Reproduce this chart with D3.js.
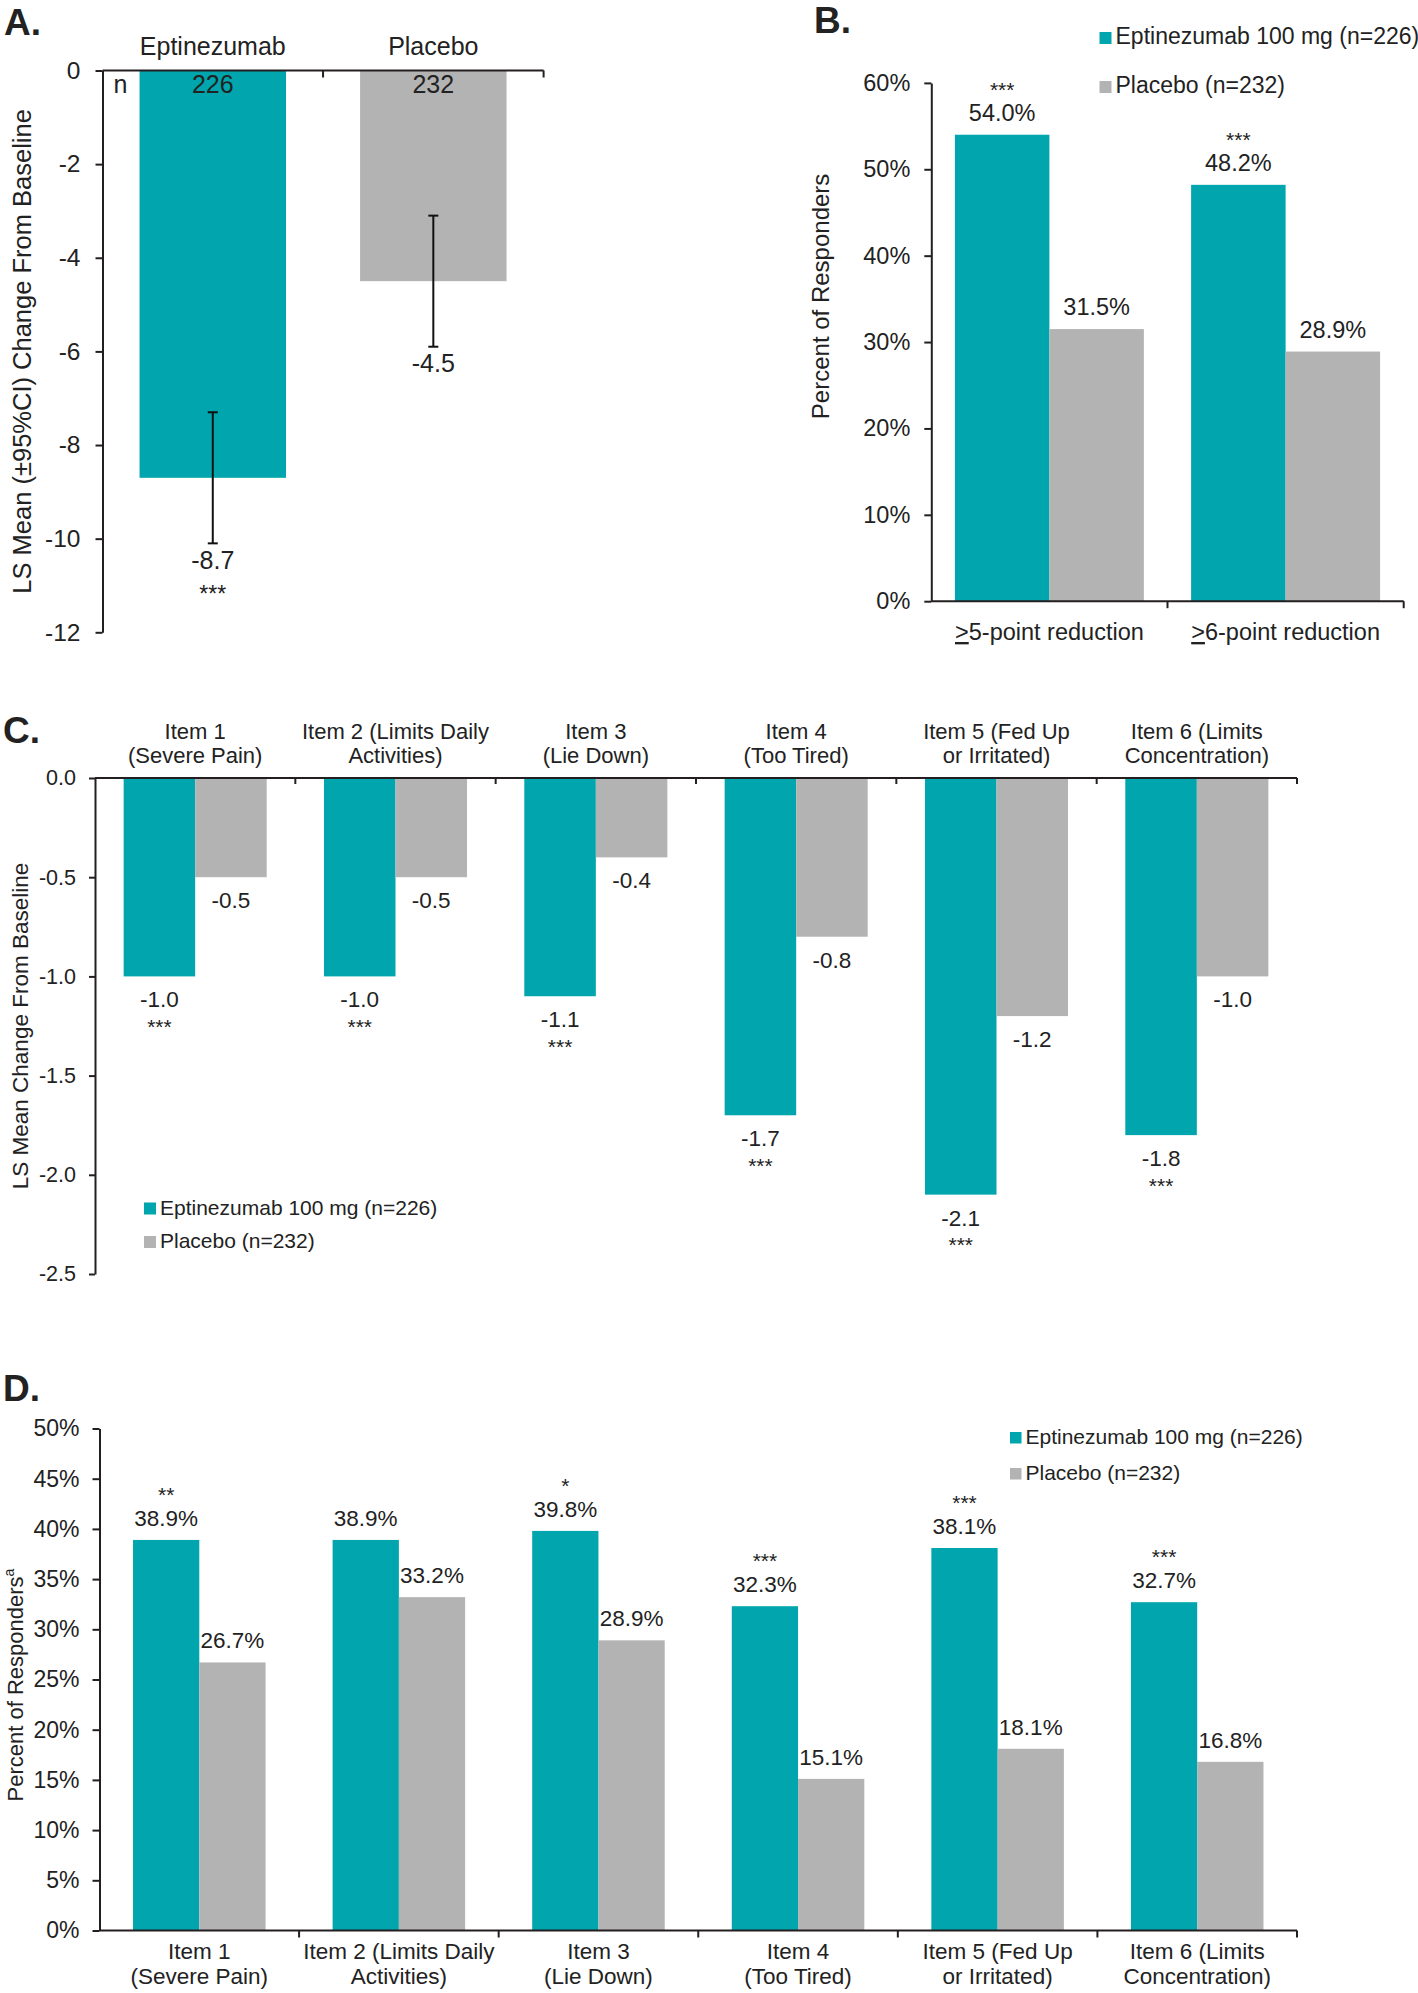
<!DOCTYPE html>
<html><head><meta charset="utf-8">
<script src="https://cdn.jsdelivr.net/npm/d3@7"></script>
<style>
body{margin:0;background:#fff}
text{font-family:"Liberation Sans",Arial,sans-serif;fill:#222}
</style>
</head><body>
<svg id="c" width="1418" height="1993"></svg>
<script>
// ---------------- DATA ----------------
const seriesNames = ["Eptinezumab 100 mg (n=226)", "Placebo (n=232)"];

// Panel A
const groupsA = ["Eptinezumab", "Placebo"];
const nA = [226, 232];
const meanA = [-8.7, -4.5];
const ciLowA = [-10.1, -5.9];
const ciHighA = [-7.3, -3.1];
const sigA = ["***", ""];
const ticksA = [0, -2, -4, -6, -8, -10, -12];

// Panel B
const catsB = ["≥5-point reduction", "≥6-point reduction"];
const eptB = [54.0, 48.2];
const plaB = [31.5, 28.9];
const sigB = ["***", "***"];
const ticksB = [0, 10, 20, 30, 40, 50, 60];

// Panels C & D items
const itemLine1 = ["Item 1", "Item 2 (Limits Daily", "Item 3", "Item 4", "Item 5 (Fed Up", "Item 6 (Limits"];
const itemLine2 = ["(Severe Pain)", "Activities)", "(Lie Down)", "(Too Tired)", "or Irritated)", "Concentration)"];

// Panel C
const eptC = [-1.0, -1.0, -1.1, -1.7, -2.1, -1.8];
const plaC = [-0.5, -0.5, -0.4, -0.8, -1.2, -1.0];
const sigC = ["***", "***", "***", "***", "***", "***"];
const ticksC = [0, -0.5, -1.0, -1.5, -2.0, -2.5];

// Panel D
const eptD = [38.9, 38.9, 39.8, 32.3, 38.1, 32.7];
const plaD = [26.7, 33.2, 28.9, 15.1, 18.1, 16.8];
const sigD = ["**", "", "*", "***", "***", "***"];
const ticksD = [0, 5, 10, 15, 20, 25, 30, 35, 40, 45, 50];

// ---------------- STYLE ----------------
const TEAL = "#00A5AD", GRAY = "#B3B3B3", AXIS = "#231f20";
const colors = [TEAL, GRAY];
const svg = d3.select("#c");

function txt(g, x, y, s, size, anchor = "middle", weight = "normal") {
  return g.append("text").attr("x", x).attr("y", y).attr("font-size", size)
    .attr("text-anchor", anchor).attr("font-weight", weight).text(s);
}
function yTitle(g, x, y, s, size) {
  return g.append("text").attr("transform", `translate(${x},${y}) rotate(-90)`)
    .attr("font-size", size).attr("text-anchor", "middle").text(s);
}
function styleAxis(sel, fs) {
  sel.select(".domain").attr("stroke", AXIS).attr("stroke-width", 2);
  sel.selectAll(".tick line").attr("stroke", AXIS).attr("stroke-width", 2);
  sel.selectAll(".tick text").attr("font-size", fs).attr("fill", "#222")
    .attr("font-family", '"Liberation Sans",Arial,sans-serif');
}
function bandTicks(g, scale, y, len) {
  const r = scale.range(), n = scale.domain().length, step = (r[1] - r[0]) / n;
  g.append("line").attr("x1", r[0]).attr("x2", r[1]).attr("y1", y).attr("y2", y)
    .attr("stroke", AXIS).attr("stroke-width", 2);
  d3.range(1, n + 1).forEach(i => {
    const x = r[0] + i * step;
    g.append("line").attr("x1", x).attr("x2", x).attr("y1", y).attr("y2", y + len)
      .attr("stroke", AXIS).attr("stroke-width", 2);
  });
}
function legend(g, x, y1, y2, size, fs) {
  [y1, y2].forEach((yy, i) => {
    g.append("rect").attr("x", x).attr("y", yy - size + 1).attr("width", size).attr("height", size)
      .attr("fill", colors[i]);
    txt(g, x + size + 4, yy + 1, seriesNames[i], fs, "start");
  });
}
// small asterisks used as significance markers
function stars(g, x, y, s, size) {
  return txt(g, x, y, s, size).attr("class", "sig");
}

// ---------------- PANEL A ----------------
{
  const g = svg.append("g");
  const y = d3.scaleLinear().domain([-12, 0]).range([632.3, 70.5]);
  const x = d3.scaleBand().domain(groupsA).range([102.5, 543.6]).paddingInner(0.336).paddingOuter(0.168);
  txt(g, 4, 35, "A.", 37, "start", "bold");
  g.selectAll("rect.bar").data(groupsA).join("rect")
    .attr("x", d => x(d)).attr("width", x.bandwidth())
    .attr("y", y(0)).attr("height", (d, i) => y(meanA[i]) - y(0))
    .attr("fill", (d, i) => colors[i]);
  const ax = g.append("g").attr("transform", `translate(102.5,0)`)
    .call(d3.axisLeft(y).tickValues(ticksA).tickFormat(d => String(d)).tickSize(7).tickSizeOuter(0).tickPadding(15));
  styleAxis(ax, 24.5);
  bandTicks(g, x, y(0), 7);
  groupsA.forEach((d, i) => {
    const cx = x(d) + x.bandwidth() / 2;
    txt(g, cx, 55, d, 25);
    txt(g, cx, 93, String(nA[i]), 25);
    g.append("line").attr("x1", cx).attr("x2", cx).attr("y1", y(ciHighA[i])).attr("y2", y(ciLowA[i]))
      .attr("stroke", "#111").attr("stroke-width", 2);
    [ciHighA[i], ciLowA[i]].forEach(v => g.append("line").attr("x1", cx - 5).attr("x2", cx + 5)
      .attr("y1", y(v)).attr("y2", y(v)).attr("stroke", "#111").attr("stroke-width", 2));
    const lb = y(ciLowA[i]) + 25.5;
    txt(g, cx, lb, meanA[i].toFixed(1), 25);
    if (sigA[i]) stars(g, cx, lb + 33, sigA[i], 23);
  });
  txt(g, 120.5, 93, "n", 25);
  yTitle(g, 31, 351.4, "LS Mean (±95%CI) Change From Baseline", 25.5);
}

// ---------------- PANEL B ----------------
{
  const g = svg.append("g");
  const y = d3.scaleLinear().domain([0, 60]).range([601.2, 82.9]);
  const x0 = d3.scaleBand().domain(catsB).range([931.3, 1403.7]).paddingInner(0.2).paddingOuter(0.1);
  const x1 = d3.scaleBand().domain([0, 1]).range([0, x0.bandwidth()]);
  txt(g, 814, 33, "B.", 37, "start", "bold");
  catsB.forEach((c, i) => {
    [eptB[i], plaB[i]].forEach((v, k) => {
      const bx = x0(c) + x1(k);
      g.append("rect").attr("x", bx).attr("width", x1.bandwidth()).attr("y", y(v))
        .attr("height", y(0) - y(v)).attr("fill", colors[k]);
      const lb = y(v) - 14;
      txt(g, bx + x1.bandwidth() / 2, lb, v.toFixed(1) + "%", 23.5);
      if (k === 0 && sigB[i]) stars(g, bx + x1.bandwidth() / 2, lb - 24, sigB[i], 21);
    });
    const t = g.append("text").attr("x", x0(c) + x0.bandwidth() / 2).attr("y", 640)
      .attr("font-size", 23.5).attr("text-anchor", "middle");
    t.append("tspan").attr("text-decoration", "underline").style("text-decoration", "underline").text(">");
    t.append("tspan").text(c.slice(1));
  });
  const ax = g.append("g").attr("transform", `translate(931.3,0)`)
    .call(d3.axisLeft(y).tickValues(ticksB).tickFormat(d => d + "%").tickSize(7).tickSizeOuter(0).tickPadding(14));
  styleAxis(ax, 23.5);
  bandTicks(g, x0, y(0), 7);
  yTitle(g, 829, 296.4, "Percent of Responders", 24);
  legend(g, 1099.5, 43, 92, 12, 23);
}

// ---------------- PANEL C ----------------
{
  const g = svg.append("g");
  const y = d3.scaleLinear().domain([-2.5, 0]).range([1274, 778]);
  const x0 = d3.scaleBand().domain(itemLine1).range([95, 1297]).paddingInner(0.286).paddingOuter(0.143);
  const x1 = d3.scaleBand().domain([0, 1]).range([0, x0.bandwidth()]);
  txt(g, 3, 743, "C.", 37, "start", "bold");
  itemLine1.forEach((c, i) => {
    [eptC[i], plaC[i]].forEach((v, k) => {
      const bx = x0(c) + x1(k);
      g.append("rect").attr("x", bx).attr("width", x1.bandwidth()).attr("y", y(0))
        .attr("height", y(v) - y(0)).attr("fill", colors[k]);
      const lb = y(v) + 31;
      txt(g, bx + x1.bandwidth() / 2, lb, v.toFixed(1), 22.5);
      if (k === 0 && sigC[i]) stars(g, bx + x1.bandwidth() / 2, lb + 26.5, sigC[i], 21);
    });
    const cx = x0(c) + x0.bandwidth() / 2;
    txt(g, cx, 738.5, c, 22);
    txt(g, cx, 763, itemLine2[i], 22);
  });
  const ax = g.append("g").attr("transform", `translate(95,0)`)
    .call(d3.axisLeft(y).tickValues(ticksC).tickFormat(d => d.toFixed(1)).tickSize(6).tickSizeOuter(0).tickPadding(13));
  styleAxis(ax, 21.5);
  bandTicks(g, x0, y(0), 6);
  yTitle(g, 27.5, 1026, "LS Mean Change From Baseline", 22.5);
  legend(g, 144, 1213.5, 1247, 12, 21);
}

// ---------------- PANEL D ----------------
{
  const g = svg.append("g");
  const y = d3.scaleLinear().domain([0, 50]).range([1930.5, 1428.5]);
  const x0 = d3.scaleBand().domain(itemLine1).range([99.5, 1297]).paddingInner(0.336).paddingOuter(0.168);
  const x1 = d3.scaleBand().domain([0, 1]).range([0, x0.bandwidth()]);
  txt(g, 3, 1401, "D.", 37, "start", "bold");
  itemLine1.forEach((c, i) => {
    [eptD[i], plaD[i]].forEach((v, k) => {
      const bx = x0(c) + x1(k);
      g.append("rect").attr("x", bx).attr("width", x1.bandwidth()).attr("y", y(v))
        .attr("height", y(0) - y(v)).attr("fill", colors[k]);
      const lb = y(v) - 14;
      txt(g, bx + x1.bandwidth() / 2, lb, v.toFixed(1) + "%", 22.5);
      if (k === 0 && sigD[i]) stars(g, bx + x1.bandwidth() / 2, lb - 24, sigD[i], 21);
    });
    const cx = x0(c) + x0.bandwidth() / 2;
    txt(g, cx, 1958.5, c, 22.5);
    txt(g, cx, 1983.5, itemLine2[i], 22.5);
  });
  const ax = g.append("g").attr("transform", `translate(99.5,0)`)
    .call(d3.axisLeft(y).tickValues(ticksD).tickFormat(d => d + "%").tickSize(7).tickSizeOuter(0).tickPadding(13));
  styleAxis(ax, 23);
  bandTicks(g, x0, y(0), 7);
  const t = g.append("text").attr("transform", "translate(23,1685) rotate(-90)")
    .attr("font-size", 22).attr("text-anchor", "middle");
  t.append("tspan").text("Percent of Responders");
  t.append("tspan").attr("font-size", 14).attr("dy", -9).text("a");
  legend(g, 1010, 1442.5, 1478.5, 11.5, 21);
}
</script>
</body></html>
